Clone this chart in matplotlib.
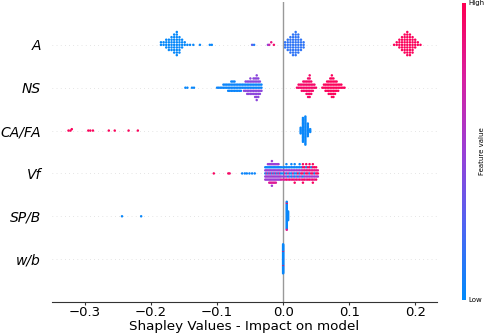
import numpy as np
import matplotlib
matplotlib.use("Agg")
import matplotlib.pyplot as plt
from matplotlib.colors import LinearSegmentedColormap

# ---------------- data ----------------
features = ["A", "NS", "CA/FA", "Vf", "SP/B", "w/b"]   # top to bottom
xticks = [-0.3, -0.2, -0.1, 0.0, 0.1, 0.2]

# A: columns of dots (SHAP value) with number of dots in each column, and feature value
A_left_cols = [-0.185, -0.181, -0.177, -0.173, -0.169, -0.165, -0.161, -0.157, -0.153, -0.149, -0.145]
A_left_counts = [2, 2, 4, 5, 6, 8, 10, 7, 4, 2, 1]
A_left_feat = 0.02
A_single = [-0.141, -0.136, -0.126, -0.111, -0.108, -0.047, -0.044, -0.023, -0.021, -0.018, -0.014]
A_single_feat = [0.03, 0.03, 0.03, 0.03, 0.03, 0.30, 0.10, 0.45, 0.70, 0.85, 0.92]
A_mid_cols = [0.003, 0.007, 0.011, 0.015, 0.019, 0.023, 0.027, 0.031]
A_mid_counts = [3, 5, 7, 9, 10, 8, 5, 3]
A_mid_feat = 0.15
A_right_cols = [0.168, 0.172, 0.176, 0.180, 0.184, 0.188, 0.192, 0.196, 0.200, 0.204, 0.208]
A_right_counts = [1, 2, 4, 6, 8, 10, 9, 7, 4, 2, 1]
A_right_feat = 0.97

# NS
NS_single = [-0.148, -0.145, -0.138, -0.135]
NS_single_feat = [0.03, 0.03, 0.03, 0.03]
NS_main_cols = [-0.1000, -0.0976, -0.0952, -0.0928, -0.0904, -0.0880, -0.0856, -0.0832,
                -0.0808, -0.0784, -0.0760, -0.0736, -0.0712, -0.0688, -0.0664, -0.0640,
                -0.0616, -0.0592, -0.0568, -0.0544, -0.0520, -0.0496, -0.0472, -0.0448,
                -0.0424, -0.0400, -0.0376, -0.0352, -0.0328]
NS_main_blue = [1, 1, 1, 1, 2, 2, 2, 3, 3, 4, 4, 4, 3, 3, 3, 3, 2,
                2, 2, 2, 2, 2, 2, 2, 2, 2, 2, 2, 2]
NS_main_purple = [0, 0, 0, 0, 0, 0, 0, 0, 0, 0, 0, 0, 0, 0, 0, 0, 0,
                  1, 2, 3, 3, 4, 3, 4, 5, 7, 5, 3, 1]
NS_p1_cols = [0.0210, 0.0234, 0.0258, 0.0282, 0.0306, 0.0330, 0.0354, 0.0378, 0.0402,
              0.0426, 0.0450, 0.0474, 0.0498]
NS_p1_counts = [1, 2, 2, 3, 4, 4, 5, 7, 8, 5, 3, 2, 1]
NS_p2_cols = [0.0594, 0.0618, 0.0642, 0.0666, 0.0690, 0.0714, 0.0738, 0.0762, 0.0786,
              0.0810, 0.0834, 0.0858, 0.0882, 0.0906, 0.0930]
NS_p2_counts = [1, 2, 3, 4, 5, 6, 8, 7, 5, 4, 3, 2, 2, 1, 1]

# CA/FA
CAFA_single = [-0.325, -0.322, -0.320, -0.295, -0.292, -0.288, -0.264, -0.255, -0.234, -0.220]
CAFA_single_feat = [0.97] * 10
CAFA_cols = [0.0265, 0.0300, 0.0337, 0.0374, 0.0410]
CAFA_counts = [5, 18, 21, 10, 3]
CAFA_cols_feat = 0.03

# Vf
Vf_single = [-0.105, -0.083, -0.081, -0.062, -0.058, -0.055, -0.051, -0.047, -0.043]
Vf_single_feat = [0.95, 0.95, 0.92, 0.04, 0.04, 0.04, 0.04, 0.04, 0.04]
Vf_cols = [-0.027, -0.025, -0.023, -0.021, -0.019, -0.017, -0.015, -0.013, -0.011,
           -0.009, -0.007, -0.005, -0.003,
           0.0000, 0.0025, 0.0050, 0.0075, 0.0100, 0.0125, 0.0150, 0.0175, 0.0200,
           0.0225, 0.0250, 0.0275, 0.0300, 0.0325, 0.0350, 0.0375, 0.0400, 0.0425,
           0.0450, 0.0475, 0.0500, 0.0525]
Vf_col_feats = [
    [0.04, 0.50, 0.50, 0.04, 0.55],
    [0.78, 0.50, 0.50, 0.04, 0.50],
    [0.04, 0.50, 0.55, 0.04, 0.50, 0.50],
    [0.78, 0.50, 0.50, 0.04, 0.50, 0.50, 0.78],
    [0.04, 0.50, 0.50, 0.04, 0.55, 0.50, 0.78],
    [0.78, 0.50, 0.50, 0.04, 0.50, 0.50, 0.78, 0.50, 0.50],
    [0.04, 0.50, 0.55, 0.04, 0.50, 0.50, 0.78],
    [0.78, 0.50, 0.50, 0.04, 0.50, 0.50, 0.78],
    [0.04, 0.50, 0.50, 0.04, 0.55, 0.50, 0.78],
    [0.78, 0.50, 0.50, 0.04, 0.50, 0.50],
    [0.04, 0.50, 0.50, 0.04, 0.50, 0.50],
    [0.78, 0.50, 0.55, 0.04, 0.50],
    [0.04, 0.50, 0.50, 0.04, 0.78],
    [0.04, 0.55, 0.50, 0.04, 0.78],
    [0.78, 0.55, 0.50, 0.04, 0.78],
    [0.04, 0.55, 0.50, 0.04, 0.95, 0.04],
    [0.78, 0.55, 0.04, 0.04, 0.78],
    [0.04, 0.55, 0.50, 0.04, 0.95],
    [0.04, 0.55, 0.04, 0.04, 0.78, 0.04],
    [0.78, 0.55, 0.50, 0.04, 0.95],
    [0.04, 0.55, 0.04, 0.04, 0.78, 0.04, 0.95],
    [0.04, 0.55, 0.50, 0.04, 0.95],
    [0.95, 0.55, 0.04, 0.04, 0.78],
    [0.04, 0.55, 0.50, 0.04, 0.95, 0.04],
    [0.95, 0.60, 0.50, 0.04, 0.78],
    [0.95, 0.80, 0.04, 0.95, 0.95, 0.95, 0.95],
    [0.04, 0.80, 0.55, 0.95, 0.95],
    [0.95, 0.85, 0.50, 0.04, 0.78, 0.95],
    [0.95, 0.80, 0.55, 0.95, 0.95],
    [0.04, 0.85, 0.50, 0.95, 0.95, 0.95],
    [0.95, 0.80, 0.55, 0.04, 0.78],
    [0.95, 0.85, 0.50, 0.95, 0.95, 0.95, 0.95],
    [0.04, 0.80, 0.55, 0.95, 0.78],
    [0.95, 0.85, 0.50, 0.95, 0.95],
    [0.95, 0.80, 0.55],
]

# SP/B
SPB_single = [-0.244, -0.215]
SPB_single_feat = [0.03, 0.03]
SPB_cols = [0.0055, 0.0075]
SPB_counts = [30, 10]
SPB_col_feats = [0.03] * 27 + [0.95, 0.80, 0.03] + [0.03] * 10

# w/b
wb_value = 0.0
wb_feats = [0.90, 0.03, 0.03, 0.03, 0.03, 0.03, 0.03, 0.03, 0.03, 0.03,
            0.03, 0.03, 0.03, 0.03, 0.03, 0.03, 0.03, 0.03, 0.03, 0.03,
            0.03, 0.03, 0.95, 0.03, 0.03, 0.95, 0.03, 0.03, 0.03, 0.03,
            0.03, 0.03, 0.03, 0.03, 0.03, 0.03, 0.03, 0.03, 0.03, 0.03,
            0.03, 0.03, 0.03, 0.03, 0.03, 0.03]


# ---------------- assemble per-feature arrays ----------------
def cols_const(cols, counts, feat):
    v = np.repeat(cols, counts)
    return list(v), [feat] * len(v)


def A_data():
    v, f = [], []
    for part in (cols_const(A_left_cols, A_left_counts, A_left_feat),
                 (A_single, A_single_feat),
                 cols_const(A_mid_cols, A_mid_counts, A_mid_feat),
                 cols_const(A_right_cols, A_right_counts, A_right_feat)):
        v += list(part[0]); f += list(part[1])
    return v, f


def NS_data():
    v, f = list(NS_single), list(NS_single_feat)
    for c, b, p in zip(NS_main_cols, NS_main_blue, NS_main_purple):
        v += [c] * (b + p)
        f += [0.04] * b + [0.45] * p
    for part in (cols_const(NS_p1_cols, NS_p1_counts, 0.93),
                 cols_const(NS_p2_cols, NS_p2_counts, 0.97)):
        v += list(part[0]); f += list(part[1])
    return v, f


def CAFA_data():
    v, f = list(CAFA_single), list(CAFA_single_feat)
    a, b = cols_const(CAFA_cols, CAFA_counts, CAFA_cols_feat)
    return v + a, f + b


def Vf_data():
    v, f = list(Vf_single), list(Vf_single_feat)
    for c, feats in zip(Vf_cols, Vf_col_feats):
        v += [c] * len(feats)
        f += list(feats)
    return v, f


def SPB_data():
    v = list(SPB_single) + list(np.repeat(SPB_cols, SPB_counts))
    f = list(SPB_single_feat) + list(SPB_col_feats)
    return v, f


def wb_data():
    return [wb_value] * len(wb_feats), list(wb_feats)


rows = [A_data(), NS_data(), CAFA_data(), Vf_data(), SPB_data(), wb_data()]

# ---------------- SHAP style colormap ----------------
red_blue = LinearSegmentedColormap.from_list(
    "red_blue", ["#008bfb", "#4f64f2", "#9a3fd6", "#d81fa0", "#ff0052"])


def swarm_offsets(vals, row_height=0.4, nbins=100):
    vals = np.asarray(vals, dtype=float)
    n = len(vals)
    rng = vals.max() - vals.min()
    quant = np.round(nbins * (vals - vals.min()) / (rng + 1e-8))
    inds = np.argsort(quant, kind="stable")
    layer, last_bin = 0, -1
    ys = np.zeros(n)
    for ind in inds:
        if quant[ind] != last_bin:
            layer = 0
        ys[ind] = np.ceil(layer / 2) * ((layer % 2) * 2 - 1)
        layer += 1
        last_bin = quant[ind]
    ys *= 0.9 * (row_height / np.max(ys + 1))
    return ys


fig = plt.figure(figsize=(4.84, 3.34), dpi=100)
ax = fig.add_axes([52 / 484, 32 / 334, 385 / 484, 300 / 334])

nfeat = len(features)
ax.axvline(0, color="#999999", lw=1.0, zorder=-1)
for i, (sv, fv) in enumerate(rows):
    pos = nfeat - 1 - i
    ax.axhline(pos, color="#cccccc", lw=0.5, dashes=(1, 5), zorder=-1)
    ys = swarm_offsets(sv)
    ax.scatter(sv, pos + ys, c=fv, cmap=red_blue, vmin=0, vmax=1,
               s=3.2, linewidths=0, zorder=3, rasterized=True)

ax.set_ylim(-1, nfeat)
ax.set_xlim(-0.35, 0.233)
ax.set_yticks(range(nfeat))
ax.set_yticklabels(features[::-1], fontsize=10, fontstyle="italic")
ax.set_xticks(xticks)
ax.set_xticklabels([f"{t:.1f}".replace("-", "\u2212") for t in xticks])
ax.tick_params(axis="x", labelsize=9.5, length=2, pad=1, color="#333333")
ax.tick_params(axis="y", length=0, pad=8)
for sp in ["top", "left", "right"]:
    ax.spines[sp].set_visible(False)
ax.spines["bottom"].set_color("#333333")
ax.set_xlabel("Shapley Values - Impact on model", fontsize=9.7, labelpad=0.5)

# colour bar
cax = fig.add_axes([462 / 484, 34 / 334, 4 / 484, 297 / 334])
sm = plt.cm.ScalarMappable(cmap=red_blue, norm=plt.Normalize(0, 1))
cb = fig.colorbar(sm, cax=cax, ticks=[0, 1])
cb.set_ticklabels(["Low", "High"])
cb.ax.tick_params(labelsize=5, length=0, pad=2)
cb.outline.set_visible(False)
cb.set_label("Feature value", size=5, labelpad=-4)

fig.savefig("out.png", dpi=100)
